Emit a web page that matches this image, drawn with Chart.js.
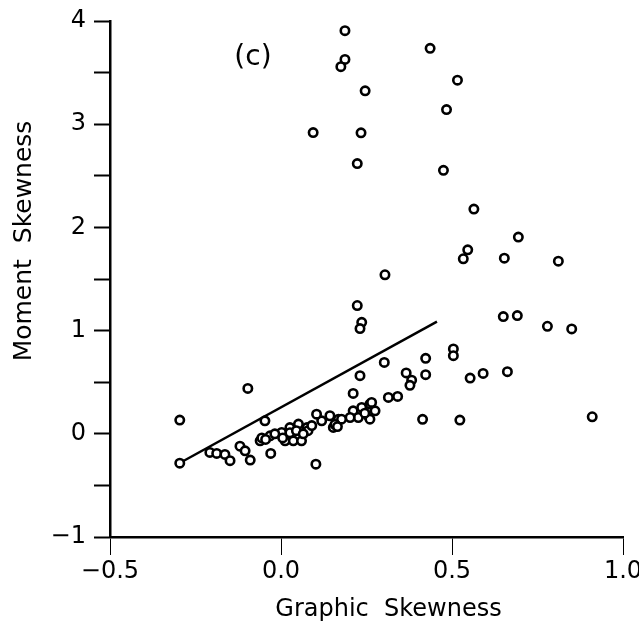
<!DOCTYPE html>
<html>
<head>
<meta charset="utf-8">
<script src="https://cdn.jsdelivr.net/npm/chart.js@4.4.1/dist/chart.umd.min.js"></script>
<style>
  html, body { margin: 0; padding: 0; background: #fff; }
  #wrap { width: 639px; height: 627px; }
</style>
</head>
<body>
<div id="wrap"><canvas id="skewChart" width="639" height="627"></canvas></div>
<script>
// graphic skewness (x) vs moment skewness (y)
const graphicSkew = [
    0.187, 0.436, 0.187, 0.175, 0.516, 0.246, 0.484, 0.094, 0.234, 0.223,
    0.475, 0.564, 0.694, 0.546, 0.533, 0.653, 0.811, 0.304, 0.223, 0.650,
    0.691, 0.236, 0.231, 0.779, 0.850, 0.504, 0.504, 0.423, 0.302, 0.231,
    0.366, 0.382, 0.377, 0.423, 0.553, 0.591, 0.662, 0.211, 0.314, 0.341,
    0.414, 0.523, 0.910, 0.102, -0.296, -0.296, -0.097, -0.047, -0.208, -0.188,
    -0.164, -0.149, -0.120, -0.105, -0.090, -0.061, -0.030, 0.002, 0.051, 0.012,
    0.036, 0.060, -0.032, -0.018, 0.026, 0.076, 0.079, 0.026, -0.056, 0.119,
    0.143, 0.168, 0.153, 0.104, 0.211, 0.236, 0.260, 0.226, 0.255, 0.202,
    0.275, 0.177, 0.265, 0.260, -0.045, 0.005, 0.045, 0.065, 0.090, 0.158,
    0.165, 0.245
];
const momentSkew = [
    3.906, 3.735, 3.628, 3.557, 3.427, 3.323, 3.142, 2.919, 2.916, 2.618,
    2.553, 2.178, 1.906, 1.783, 1.696, 1.702, 1.673, 1.541, 1.243, 1.136,
    1.146, 1.080, 1.020, 1.042, 1.016, 0.822, 0.757, 0.731, 0.692, 0.563,
    0.590, 0.520, 0.470, 0.573, 0.540, 0.585, 0.602, 0.391, 0.352, 0.362,
    0.140, 0.133, 0.165, -0.294, 0.133, -0.285, 0.440, 0.126, -0.180, -0.190,
    -0.200, -0.260, -0.120, -0.165, -0.255, -0.068, -0.190, 0.013, 0.094, -0.068,
    -0.068, -0.068, -0.020, 0.000, 0.060, 0.060, 0.030, 0.010, -0.040, 0.126,
    0.175, 0.142, 0.062, 0.190, 0.223, 0.256, 0.288, 0.158, 0.175, 0.158,
    0.223, 0.142, 0.304, 0.142, -0.055, -0.040, 0.030, 0.000, 0.080, 0.090,
    0.070, 0.200
];

// reference line end points
const lineX = [-0.30, 0.456];
const lineY = [-0.29, 1.087];

const xTicks = [-0.5, 0.0, 0.5, 1.0];
const xTickLabels = ['\u22120.5', '0.0', '0.5', '1.0'];
const yTicks = [-1, 0, 1, 2, 3, 4];
const yTickLabels = ['\u22121', '0', '1', '2', '3', '4'];

const xTitle = 'Graphic  Skewness';
const yTitle = 'Moment  Skewness';
const panelLabel = '(c)';
const panelPos = { x: -0.082, y: 3.64 };

Chart.defaults.font.family = "'DejaVu Sans', sans-serif";
Chart.defaults.color = '#000';

const points = graphicSkew.map((gx, i) => ({ x: gx, y: momentSkew[i] }));
const linePts = lineX.map((lx, i) => ({ x: lx, y: lineY[i] }));

const textPlugin = {
    id: 'figureText',
    afterDraw(chart) {
        const { ctx, chartArea, scales } = chart;
        ctx.save();
        ctx.fillStyle = '#000';
        ctx.textAlign = 'center';
        ctx.textBaseline = 'middle';

        ctx.font = "24px 'DejaVu Sans'";
        ctx.fillText(xTitle, (chartArea.left + chartArea.right) / 2 + 22, chartArea.bottom + 73);

        ctx.save();
        ctx.translate(24, (chartArea.top + chartArea.bottom) / 2 - 38);
        ctx.rotate(-Math.PI / 2);
        ctx.font = "25px 'DejaVu Sans'";
        ctx.fillText(yTitle, 0, 0);
        ctx.restore();

        ctx.font = "28px 'DejaVu Sans'";
        ctx.fillText(panelLabel, scales.x.getPixelForValue(panelPos.x), scales.y.getPixelForValue(panelPos.y));
        ctx.restore();
    }
};

new Chart(document.getElementById('skewChart').getContext('2d'), {
    type: 'scatter',
    data: {
        datasets: [{
            data: points,
            pointStyle: 'circle',
            pointRadius: 4.2,
            pointBorderWidth: 2.6,
            pointBorderColor: '#000',
            pointBackgroundColor: '#fff',
            showLine: false
        }, {
            type: 'line',
            data: linePts,
            borderColor: '#000',
            borderWidth: 2.5,
            pointRadius: 0,
            fill: false
        }]
    },
    options: {
        responsive: false,
        animation: false,
        layout: { padding: { top: 21, right: 16, left: 0, bottom: 0 } },
        plugins: {
            legend: { display: false },
            tooltip: { enabled: false }
        },
        scales: {
            x: {
                type: 'linear',
                min: -0.5,
                max: 1.0,
                afterFit(scale) {
                    scale.height = 90;
                    scale.paddingLeft = 0;
                    scale.paddingRight = 0;
                },
                afterBuildTicks(scale) {
                    scale.ticks = xTicks.map(v => ({ value: v }));
                },
                ticks: {
                    font: { size: 24 },
                    padding: 2,
                    maxRotation: 0,
                    callback: (v) => {
                        const i = xTicks.findIndex(t => Math.abs(t - v) < 1e-6);
                        return i >= 0 ? xTickLabels[i] : '';
                    }
                },
                grid: {
                    drawOnChartArea: false,
                    drawTicks: true,
                    tickLength: 18,
                    tickColor: '#000',
                    tickWidth: 1
                },
                border: { display: true, color: '#000', width: 2.5 }
            },
            y: {
                type: 'linear',
                min: -1,
                max: 4,
                afterFit(scale) {
                    scale.width = 110;
                    scale.paddingTop = 0;
                    scale.paddingBottom = 0;
                },
                ticks: {
                    stepSize: 0.5,
                    font: { size: 24 },
                    padding: 8,
                    callback: (v) => {
                        const i = yTicks.findIndex(t => Math.abs(t - v) < 1e-6);
                        return i >= 0 ? yTickLabels[i] : '';
                    }
                },
                grid: {
                    drawOnChartArea: false,
                    drawTicks: true,
                    tickLength: 16,
                    tickColor: '#000',
                    tickWidth: 2
                },
                border: { display: true, color: '#000', width: 2.5 }
            }
        }
    },
    plugins: [textPlugin]
});
</script>
</body>
</html>
